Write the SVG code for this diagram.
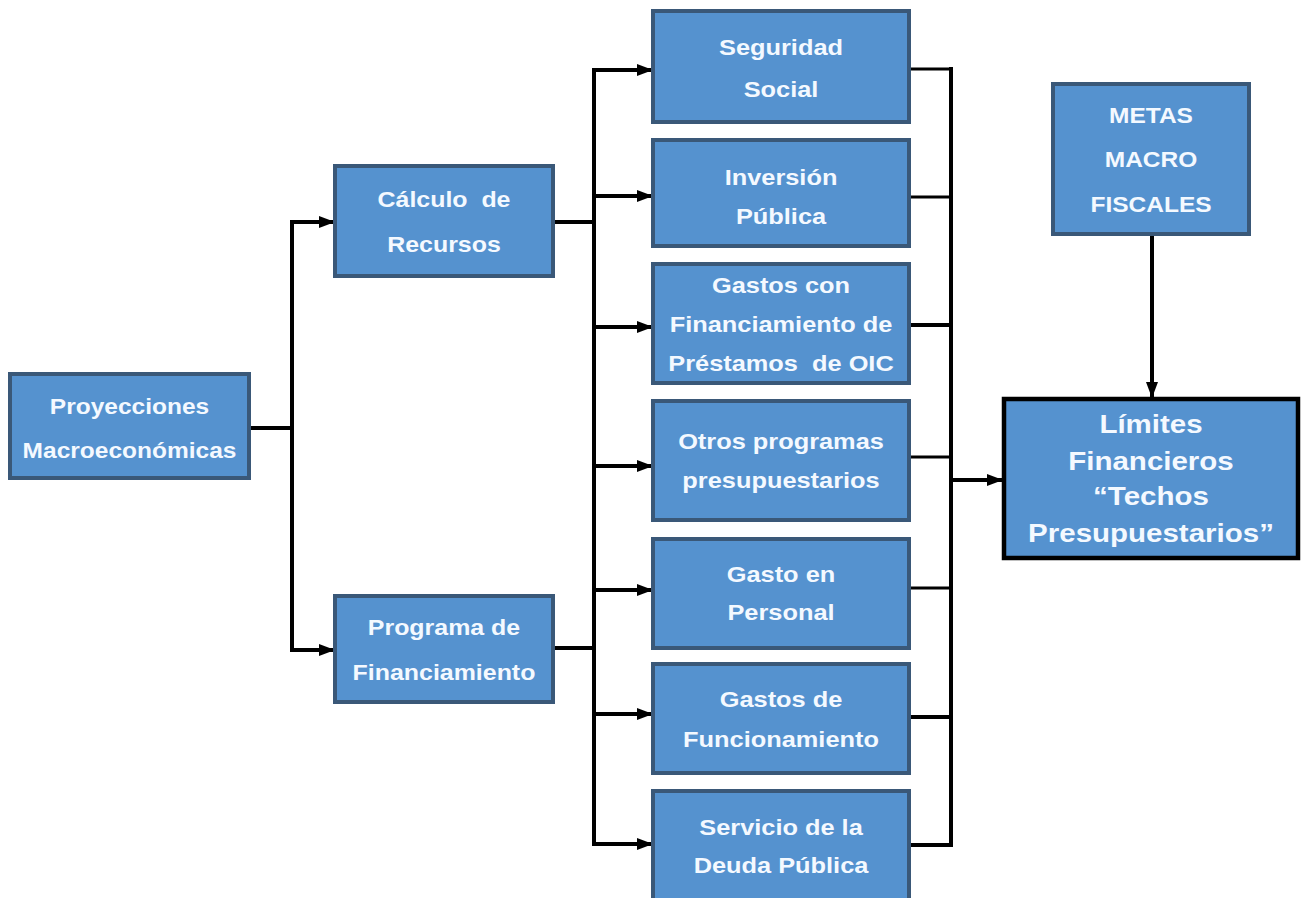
<svg xmlns="http://www.w3.org/2000/svg" width="1307" height="898" viewBox="0 0 1307 898">
<style>
.box{fill:#5592CF;stroke:#3A5878;stroke-width:4}
.big{fill:#5592CF;stroke:#000;stroke-width:4.5}
.t{font-family:"Liberation Sans",Arial,sans-serif;font-weight:bold;font-size:21.5px;fill:#F4F9FF;text-anchor:middle}
.tb{font-family:"Liberation Sans",Arial,sans-serif;font-weight:bold;font-size:25px;fill:#F4F9FF;text-anchor:middle}
.c{fill:none;stroke:#000;stroke-width:4;stroke-linejoin:miter;stroke-linecap:square}
.c2{fill:none;stroke:#000;stroke-width:3;stroke-linecap:square}
</style>
<defs>
<marker id="ah" markerUnits="userSpaceOnUse" markerWidth="16" markerHeight="16" viewBox="0 0 16 16" refX="15" refY="8" orient="auto">
<path d="M0,2 L16,8 L0,14 Z" fill="#000"/>
</marker>
</defs>
<rect width="1307" height="898" fill="#fff"/>
<g id="connectors">
<path class="c" d="M249,428 H292"/>
<path class="c" d="M292,222 V650"/>
<path class="c" d="M292,222 H334" marker-end="url(#ah)"/>
<path class="c" d="M292,650 H334" marker-end="url(#ah)"/>
<path class="c" d="M553,222 H594"/>
<path class="c" d="M553,648 H594"/>
<path class="c" d="M594,70 V844"/>
<path class="c" d="M594,70 H652" marker-end="url(#ah)"/>
<path class="c" d="M594,196 H652" marker-end="url(#ah)"/>
<path class="c" d="M594,327 H652" marker-end="url(#ah)"/>
<path class="c" d="M594,466 H652" marker-end="url(#ah)"/>
<path class="c" d="M594,590 H652" marker-end="url(#ah)"/>
<path class="c" d="M594,714 H652" marker-end="url(#ah)"/>
<path class="c" d="M594,844 H652" marker-end="url(#ah)"/>
<path class="c2" d="M909,69 H951"/>
<path class="c2" d="M909,197 H951"/>
<path class="c" d="M909,325 H951"/>
<path class="c2" d="M909,457 H951"/>
<path class="c2" d="M909,588 H951"/>
<path class="c" d="M909,717 H951"/>
<path class="c" d="M909,845 H951"/>
<path class="c" d="M951,69 V845"/>
<path class="c" d="M951,480 H1002" marker-end="url(#ah)"/>
<path class="c" d="M1152,234 V397" marker-end="url(#ah)"/>
</g>
<g id="proyecciones">
<rect class="box" x="10" y="374" width="239" height="104"/>
<text class="t" transform="translate(129.5,414) scale(1.14,1)">Proyecciones</text>
<text class="t" transform="translate(129.5,458) scale(1.14,1)">Macroeconómicas</text>
</g>
<g id="calculo">
<rect class="box" x="335" y="166" width="218" height="110"/>
<text class="t" xml:space="preserve" transform="translate(444,207) scale(1.16,1)">Cálculo  de</text>
<text class="t" transform="translate(444,252) scale(1.16,1)">Recursos</text>
</g>
<g id="programa">
<rect class="box" x="335" y="596" width="218" height="106"/>
<text class="t" transform="translate(444,635) scale(1.16,1)">Programa de</text>
<text class="t" transform="translate(444,680) scale(1.16,1)">Financiamiento</text>
</g>
<g id="seguridad">
<rect class="box" x="653" y="11" width="256" height="111"/>
<text class="t" transform="translate(781,55) scale(1.18,1)">Seguridad</text>
<text class="t" transform="translate(781,97) scale(1.18,1)">Social</text>
</g>
<g id="inversion">
<rect class="box" x="653" y="140" width="256" height="106"/>
<text class="t" transform="translate(781,185) scale(1.18,1)">Inversión</text>
<text class="t" transform="translate(781,224) scale(1.18,1)">Pública</text>
</g>
<g id="gastos-oic">
<rect class="box" x="653" y="264" width="256" height="119"/>
<text class="t" transform="translate(781,293) scale(1.18,1)">Gastos con</text>
<text class="t" transform="translate(781,332) scale(1.18,1)">Financiamiento de</text>
<text class="t" xml:space="preserve" transform="translate(781,371) scale(1.18,1)">Préstamos  de OIC</text>
</g>
<g id="otros">
<rect class="box" x="653" y="401" width="256" height="119"/>
<text class="t" transform="translate(781,449) scale(1.18,1)">Otros programas</text>
<text class="t" transform="translate(781,488) scale(1.18,1)">presupuestarios</text>
</g>
<g id="personal">
<rect class="box" x="653" y="539" width="256" height="109"/>
<text class="t" transform="translate(781,582) scale(1.18,1)">Gasto en</text>
<text class="t" transform="translate(781,620) scale(1.18,1)">Personal</text>
</g>
<g id="funcionamiento">
<rect class="box" x="653" y="664" width="256" height="109"/>
<text class="t" transform="translate(781,707) scale(1.18,1)">Gastos de</text>
<text class="t" transform="translate(781,747) scale(1.18,1)">Funcionamiento</text>
</g>
<g id="deuda">
<rect class="box" x="653" y="791" width="256" height="109"/>
<text class="t" transform="translate(781,835) scale(1.18,1)">Servicio de la</text>
<text class="t" transform="translate(781,873) scale(1.18,1)">Deuda Pública</text>
</g>
<g id="metas">
<rect class="box" x="1053" y="84" width="196" height="150"/>
<text class="t" transform="translate(1151,123) scale(1.14,1)">METAS</text>
<text class="t" transform="translate(1151,167) scale(1.14,1)">MACRO</text>
<text class="t" transform="translate(1151,212) scale(1.14,1)">FISCALES</text>
</g>
<g id="limites">
<rect class="big" x="1004" y="399" width="294" height="159"/>
<text class="tb" transform="translate(1151,433) scale(1.18,1)">Límites</text>
<text class="tb" transform="translate(1151,470) scale(1.18,1)">Financieros</text>
<text class="tb" transform="translate(1151,505) scale(1.18,1)">“Techos</text>
<text class="tb" transform="translate(1151,542) scale(1.18,1)">Presupuestarios”</text>
</g>
</svg>
